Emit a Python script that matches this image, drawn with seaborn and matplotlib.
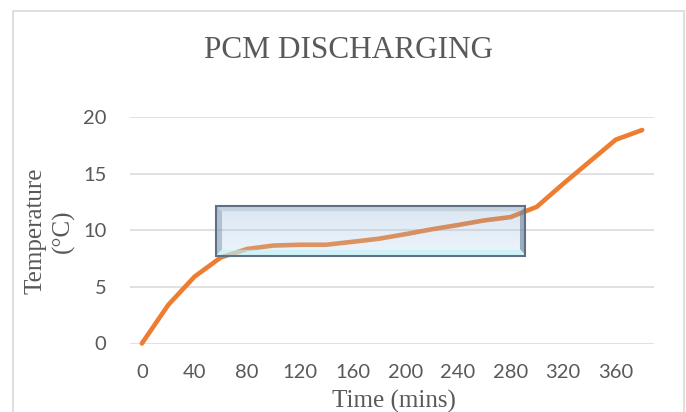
import numpy as np
import pandas as pd
import matplotlib
matplotlib.use("Agg")
import matplotlib.pyplot as plt
from matplotlib.patches import Rectangle
import seaborn as sns

# ---- data ----
time_mins = [0, 20, 40, 60, 80, 100, 120, 140, 160, 180, 200, 220, 240, 260,
             280, 300, 320, 340, 360, 380]
temperature = [0.0, 3.4, 5.9, 7.6, 8.35, 8.65, 8.72, 8.72, 8.98, 9.25, 9.65,
               10.08, 10.46, 10.87, 11.16, 12.07, 14.1, 16.05, 18.0, 18.85]
x_ticks = [0, 40, 80, 120, 160, 200, 240, 280, 320, 360]
y_ticks = [0, 5, 10, 15, 20]
highlight_x = [56.3, 291.0]
highlight_y = [7.72, 12.16]

title = "PCM DISCHARGING"
xlabel = "Time (mins)"
ylabel = "Temperature\n(°C)"

df = pd.DataFrame({"time": time_mins, "temp": temperature})

sns.set_theme(style="white")
plt.rcParams["font.family"] = ["Lato", "DejaVu Sans"]

W, H = 686, 412
fig = plt.figure(figsize=(W / 100, H / 100), dpi=100)
fig.patch.set_facecolor("white")

# outer chart frame
fig.patches.append(Rectangle((13 / W, -0.1), (684 - 13) / W, (412 - 11) / H + 0.1,
                             transform=fig.transFigure, fill=False,
                             edgecolor="#d9d9d9", linewidth=1.2))

ax = fig.add_axes([130 / W, (H - 343.5) / H, (654 - 130) / W, (343.5 - 117) / H])
ax.set_facecolor("white")

sns.lineplot(data=df, x="time", y="temp", ax=ax, color="#ED7D31",
             linewidth=3.3, solid_capstyle="round", solid_joinstyle="round",
             zorder=3, clip_on=False)

ax.set_xlim(-9, 389)
ax.set_ylim(0, 20)
ax.set_xticks(x_ticks)
ax.set_yticks(y_ticks)
ax.set_xticklabels([str(v) for v in x_ticks])
ax.set_yticklabels([str(v) for v in y_ticks])
ax.tick_params(axis="both", length=0, labelsize=14.5, labelcolor="#595959")
ax.tick_params(axis="x", pad=15)
ax.tick_params(axis="y", pad=17)
ax.grid(axis="y", color="#d9d9d9", linewidth=1.1, zorder=0)
ax.grid(axis="x", visible=False)
for s in ax.spines.values():
    s.set_visible(False)
ax.set_xlabel("")
ax.set_ylabel("")


# ---- bevelled highlight box ----
def hx(c):
    c = c.lstrip("#")
    return np.array([int(c[i:i + 2], 16) for i in (0, 2, 4)]) / 255.0


def col_for(target, a):
    t = hx(target)
    return np.clip((t - (1 - a)) / a, 0, 1)


bw, bh = 308, 49
b = 6
img = np.zeros((bh, bw, 4))
yy, xx = np.mgrid[0:bh, 0:bw]
interior_top = hx("#dbe6f2")
interior_bot = hx("#edf5fb")
ai = 0.28
ab = 0.7
for r in range(bh):
    f = r / (bh - 1)
    tgt = interior_top * (1 - f) + interior_bot * f
    img[r, :, :3] = np.clip((tgt - (1 - ai)) / ai, 0, 1)
    img[r, :, 3] = ai

top = (yy < b) & (yy <= xx) & (yy <= bw - 1 - xx)
bot = (bh - 1 - yy < b) & (bh - 1 - yy <= xx) & (bh - 1 - yy <= bw - 1 - xx)
left = (xx < b) & ~top & ~bot
right = (bw - 1 - xx < b) & ~top & ~bot
for mask, tgt in ((top, "#c6d3e2"), (bot, "#d0f3fa"), (left, "#b2c1d2"),
                  (right, "#9cadc0")):
    img[mask, :3] = col_for(tgt, ab)
    img[mask, 3] = ab

ax.imshow(img, extent=(highlight_x[0], highlight_x[1], highlight_y[0], highlight_y[1]),
          aspect="auto", interpolation="bilinear", zorder=4)
ax.add_patch(Rectangle((highlight_x[0], highlight_y[0]),
                       highlight_x[1] - highlight_x[0], highlight_y[1] - highlight_y[0],
                       fill=False, edgecolor="#5f7084", linewidth=1.5, zorder=5))
ax.set_xlim(-9, 389)
ax.set_ylim(0, 20)

# ---- text ----
serif = ["Liberation Serif", "DejaVu Serif"]
fig.text(348.5 / W, 1 - 58.3 / H, title, ha="center", va="baseline",
         fontsize=22.5, color="#595959", family=serif)
fig.text(394 / W, 1 - 408 / H, xlabel, ha="center", va="baseline",
         fontsize=18, color="#595959", family=serif)
fig.text(50 / W, 1 - 231 / H, ylabel, ha="center", va="center", rotation=90,
         multialignment="center", linespacing=1.3,
         fontsize=18, color="#595959", family=serif)

fig.savefig("out.png", dpi=100, facecolor="white")
